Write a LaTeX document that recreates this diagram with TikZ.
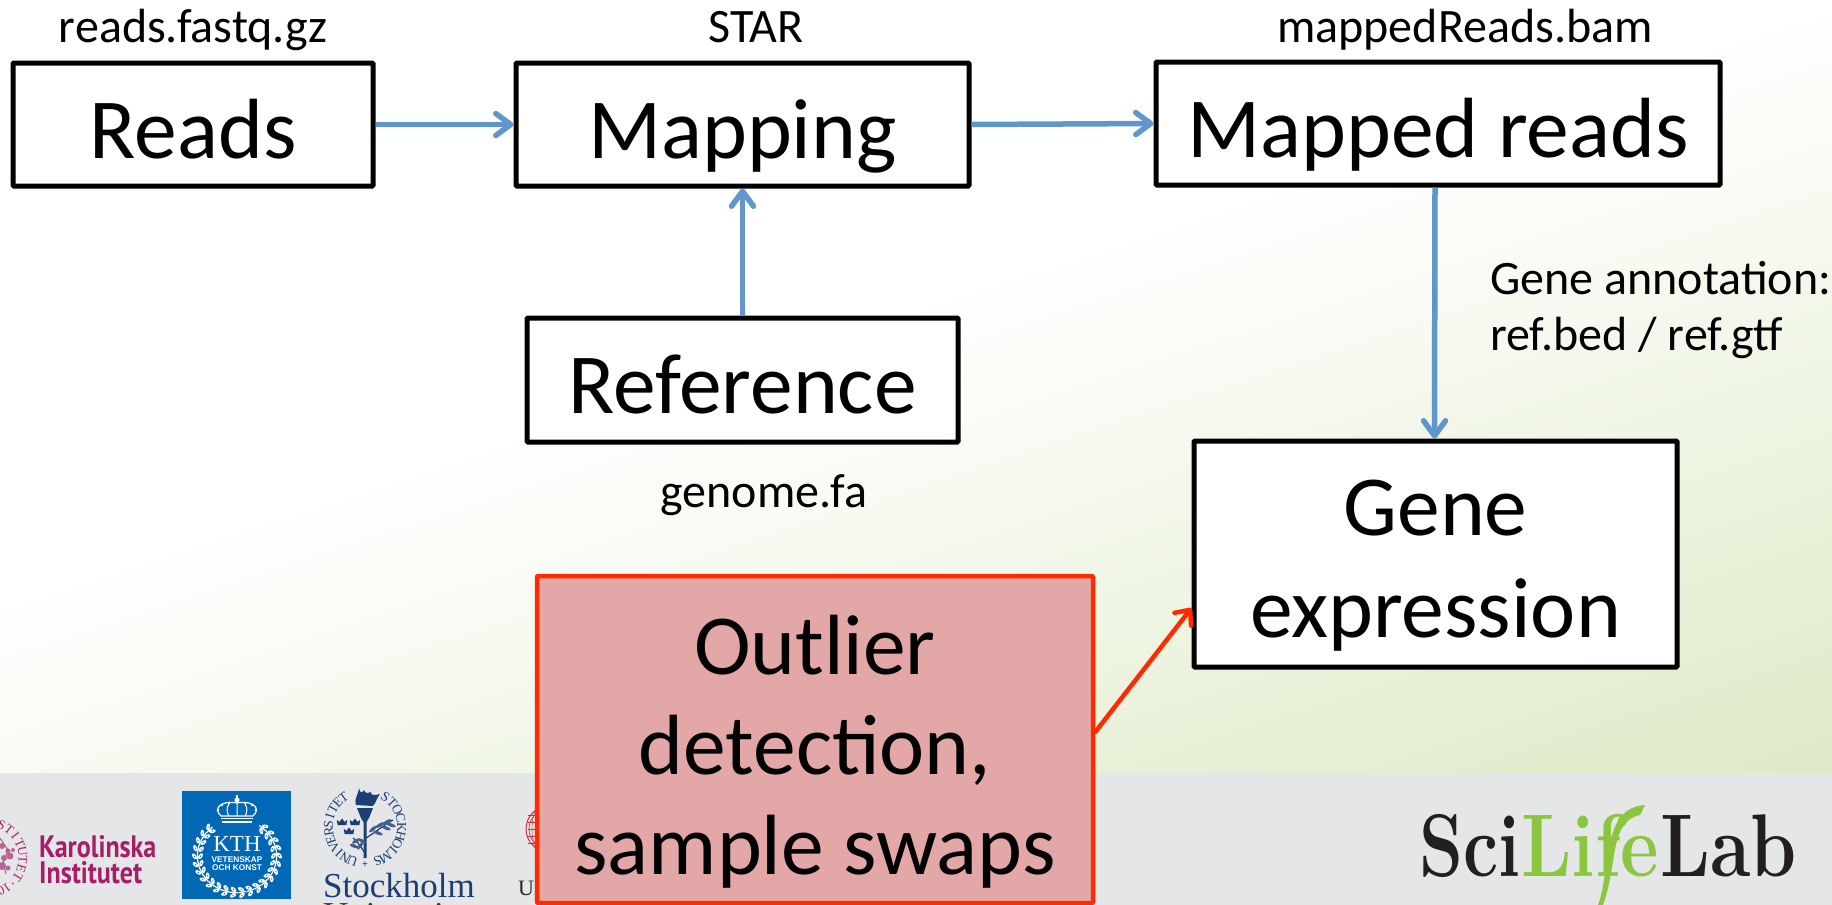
\documentclass[tikz,border=0pt]{standalone}
\usepackage{fontspec}
\setmainfont{Carlito}
\newfontfamily\serifF{Liberation Serif}
\newfontfamily\condF{PT Sans}
\newfontfamily\sansF{Liberation Sans}
\newfontfamily\didoneF{Latin Modern Roman}
\usetikzlibrary{arrows.meta,calc}
\definecolor{gradEnd}{HTML}{DDEAC6}
\definecolor{footGrey}{HTML}{E5E6E8}
\definecolor{arrowBlue}{HTML}{5F96CB}
\definecolor{alertRed}{HTML}{FF2A00}
\definecolor{alertFill}{HTML}{E2A7A6}
\definecolor{kiPink}{HTML}{A61E68}
\definecolor{kthBlue}{HTML}{0068B4}
\definecolor{suBlue}{HTML}{1C3F73}
\definecolor{uuRed}{HTML}{C9303E}
\definecolor{sciGreen}{HTML}{8CC63F}
\definecolor{sciBlack}{HTML}{231F20}
\newcommand{\bigT}{\fontsize{85.5}{100}\selectfont}
\newcommand{\smallT}{\fontsize{48}{56}\selectfont}
% ring of letters: centre x, centre y, radius, start angle, step, size, colour, letters
\newcommand{\ringletters}[8]{%
  \foreach \ch [count=\ii] in {#8}{%
    \pgfmathsetmacro\an{#4+(\ii-1)*#5}
    \pgfmathsetmacro\rt{-(\an+90)}
    \node[inner sep=0,text=#7,rotate=\rt,font={\serifF\fontsize{#6}{#6}\selectfont}] at ($(#1,#2)+(\an:#3)$) {\ch};
  }}
% small crown: centre x, base y, scale, colour
\newcommand{\tricrown}[4]{%
  \fill[#4,shift={(#1,#2)},scale=#3] (-3.4,0)--(-4,-4)--(-2,-2.4)--(0,-5)--(2,-2.4)--(4,-4)--(3.4,0)--cycle;}
\tikzset{
  x=1pt,y=-1pt,
  stepbox/.style={draw=black,fill=white,line width=5pt,rounded corners=1pt,inner sep=0pt,align=center,font=\bigT},
  alertbox/.style={draw=alertRed,fill=alertFill,line width=4.5pt,rounded corners=1pt,inner sep=0pt,align=center,font=\bigT},
  filelabel/.style={anchor=base,inner sep=0pt,font=\smallT,align=left},
  flow/.style={draw=arrowBlue,line width=5.5pt,
    preaction={draw=black,opacity=.12,transform canvas={yshift=-2pt}},
    -{Straight Barb[length=15pt,width=22pt,line width=5.5pt,round]}},
  alertflow/.style={draw=alertRed,line width=4.5pt,line cap=round,-{Straight Barb[length=12pt,width=21pt,line width=4.5pt,round]}},
}
\begin{document}
\begin{tikzpicture}
\useasboundingbox (0,0) rectangle (1832,905);
\begin{scope}
\clip (0,0) rectangle (1832,905);
% background gradient
\fill[white] (0,0) rectangle (1832,905);
\foreach \p in {0,2,...,100}{
  \pgfmathsetmacro\gt{570+7.3*\p}
  \pgfmathsetmacro\ya{(\gt+31)/0.95}
  \pgfmathsetmacro\yb{(\gt-620)/0.95}
  \fill[gradEnd!\p!white] (-100,\ya) -- (2000,\yb) -- (2000,1000) -- (-100,1000) -- cycle;
}
% footer
\fill[footGrey] (0,773) rectangle (1832,905);

% --- Karolinska
\ringletters{-13}{858}{36}{-94}{13.9}{13}{kiPink}{I,N,S,T,I,T,U,T,E,T}
\node[inner sep=0,text=kiPink,font=\sansF\fontsize{7}{7}\selectfont] at (13,885) {*};
\ringletters{-13}{858}{36}{56}{11}{13}{kiPink}{1,0}
\foreach \bx/\by/\br in {2/846/3,8/851/2.5,10/856/3.5,4/858/3,13/850/2,2/866/4,8/868/2.5}{
  \fill[kiPink!65!footGrey] (\bx,\by) circle (\br);}
\draw[kiPink!70!footGrey,line width=1pt] (0,838)--(8,850)--(3,862)--(6,874);
\node[anchor=base west,inner sep=0,text=kiPink,font=\condF\bfseries\fontsize{31}{31}\selectfont,xscale=0.84] at (39,857) {Karolinska};
\node[anchor=base west,inner sep=0,text=kiPink,font=\condF\bfseries\fontsize{31}{31}\selectfont,xscale=0.84] at (39,883) {Institutet};

% --- KTH
\fill[kthBlue] (182,791) rectangle (291,899);
\node[anchor=base,inner sep=0,text=white,font=\serifF\fontsize{23}{23}\selectfont] at (237,851) {KTH};
\node[anchor=base,inner sep=0,text=white,font=\sansF\bfseries\fontsize{8.3}{8.3}\selectfont] at (237,862.5) {VETENSKAP};
\node[anchor=base,inner sep=0,text=white,font=\sansF\bfseries\fontsize{8.3}{8.3}\selectfont] at (237,870.5) {OCH KONST};
\foreach \a in {-50,-38,...,232}{
  \pgfmathsetmacro\rr{\a+90}
  \pgfmathsetmacro\wx{237+39.5*cos(\a)}
  \pgfmathsetmacro\wy{856+36.5*sin(\a)}
  \begin{scope}[shift={(\wx,\wy)},rotate=-\rr]
    \draw[white,line width=1.2pt] (-4,0) -- (4,0);
    \fill[white,shift={(1,-3)},rotate=35] (0,0) ellipse (3.4 and 1.9);
    \fill[white,shift={(1,3)},rotate=-35] (0,0) ellipse (3.4 and 1.9);
    \fill[kthBlue] (1,-3) circle (0.7);
    \fill[kthBlue] (1,3) circle (0.7);
  \end{scope}
}
% crown
\draw[white,line width=1.3pt] (222,822) -- (252,822);
\draw[white,line width=1.3pt] (221,818.5) -- (253,818.5);
\draw[white,line width=1.2pt] (221,816) .. controls (212,808) and (222,800) .. (237,803) .. controls (252,800) and (262,808) .. (253,816) -- cycle;
\draw[white,line width=1pt] (237,803) -- (237,816) (229,804) .. controls (226,808) and (227,813) .. (229,816) (245,804) .. controls (248,808) and (247,813) .. (245,816);
\fill[white] (237,800) circle (2.6);
\fill[white] (236.2,794.5) rectangle (237.8,799);
\foreach \cx/\cy in {218/810,222/805,229/803,245/803,252/805,256/810}{\fill[white] (\cx,\cy) circle (1.3);}

% --- Stockholm University
\ringletters{365}{827}{36.5}{110}{12.4}{13.5}{suBlue}{U,N,I,V,E,R,S,I,T,E,T}
\ringletters{365}{827}{36.5}{-56}{14}{13.5}{suBlue}{S,T,O,C,K,H,O,L,M,S}
\node[inner sep=0,text=suBlue,font=\sansF\fontsize{10}{10}\selectfont] at (365,865) {+};
\fill[suBlue] (357,808) -- (373,808) -- (369,818) -- (366.5,822) -- (366.5,858) -- (363.5,858) -- (363.5,822) -- (361,818) -- cycle;
\fill[suBlue] (356,805) .. controls (354,798) and (358,796) .. (359,788) .. controls (360,793) and (362,794) .. (364,790) .. controls (365,794) and (368,793) .. (371,792) .. controls (370,795) and (374,796) .. (380,794) .. controls (376,799) and (376,803) .. (373,806) -- cycle;
\tricrown{342}{825}{1.3}{suBlue}
\tricrown{355}{825}{1.3}{suBlue}
\tricrown{349}{834}{1.3}{suBlue}
\draw[suBlue,line width=1.2pt] (366,838) .. controls (376,832) and (382,826) .. (393,820);
\foreach \lx/\ly/\lr in {373/829/40,380/825/30,387/822/30,378/833/-20,386/828/-20,391/825/-20}{
  \fill[suBlue!80!footGrey,rotate around={\lr:(\lx,\ly)}] (\lx,\ly) ellipse (5 and 1.7);}
\draw[suBlue,line width=1.2pt] (364,852) .. controls (360,845) and (356,840) .. (353,838);
\foreach \lx/\ly/\lr in {356/841/30,360/846/50,362/841/-30,354/846/-20}{
  \fill[suBlue!80!footGrey,rotate around={\lr:(\lx,\ly)}] (\lx,\ly) ellipse (4.5 and 1.7);}
\node[anchor=base west,inner sep=0,text=suBlue,font=\serifF\fontsize{35}{35}\selectfont] at (323,897) {Stockholm};
\node[anchor=base west,inner sep=0,text=suBlue,font=\serifF\fontsize{35}{35}\selectfont] at (323,926) {University};

% --- Uppsala (mostly hidden by the red box)
\draw[uuRed,line width=1pt] (549,829) circle (23);
\draw[uuRed,line width=0.7pt] (549,829) circle (20);
\foreach \yy in {815,822,829,836,843}{\draw[uuRed,line width=0.5pt] (528,\yy) -- (545,\yy);}
\draw[uuRed,line width=0.5pt] (535,810) .. controls (531,822) and (531,836) .. (535,848);
\node[anchor=base west,inner sep=0,text=black!85,font=\serifF\fontsize{22}{22}\selectfont] at (518,895) {UPPSALA};

% --- SciLifeLab
\node[anchor=base west,inner sep=0,text=sciBlack,font=\didoneF\bfseries\fontsize{89}{89}\selectfont,xscale=0.79] at (1419,876) {Sci};
\node[anchor=base west,inner sep=0,text=sciGreen,font=\didoneF\bfseries\fontsize{89}{89}\selectfont,xscale=0.84] at (1521,876) {Life};
\fill[sciGreen] (1645,805) .. controls (1620,807) and (1612,825) .. (1607,860) .. controls (1604,880) and (1602,895) .. (1598,905) -- (1603,905) .. controls (1608,892) and (1611,875) .. (1614,855) .. controls (1618,830) and (1625,818) .. (1640,815) -- cycle;
\node[anchor=base west,inner sep=0,text=sciBlack,font=\didoneF\bfseries\fontsize{89}{89}\selectfont,xscale=0.83] at (1660,876) {Lab};

% --- boxes
\node[stepbox,minimum width=360pt,minimum height=123pt,text height=67pt,text depth=0pt] (Reads) at (193,124.5) {Reads};
\node[stepbox,minimum width=453pt,minimum height=123pt,text height=67pt,text depth=0pt] (Mapping) at (742.5,124.5) {Mapping};
\node[stepbox,minimum width=564pt,minimum height=123pt,text height=67pt,text depth=0pt] (Mapped) at (1438,123.5) {Mapped reads};
\node[stepbox,minimum width=431pt,minimum height=124pt,text height=67pt,text depth=0pt] (Reference) at (742.5,380) {Reference};
\node[stepbox,minimum width=483pt,minimum height=226pt,text height=167pt,text depth=0pt] (Gene) at (1435.5,554) {Gene\\[2pt]expression};
\node[alertbox,minimum width=556pt,minimum height=327pt,text height=269pt,text depth=0pt] (Outlier) at (815,739.5) {Outlier\\detection,\\sample swaps};

% --- labels
\node[filelabel] (lReads) at (193,42) {reads.fastq.gz};
\node[filelabel] (lStar) at (756,42) {STAR};
\node[filelabel] (lBam) at (1465,42) {mappedReads.bam};
\node[filelabel] (lGenome) at (764,507) {genome.fa};
\node[filelabel,anchor=base west] (lAnn) at (1490,350) {Gene annotation:\\ref.bed / ref.gtf};

% --- connectors
\draw[flow] (Reads.east) -- (Mapping.west);
\draw[flow] (Mapping.east) -- (Mapped.west);
\draw[flow] (Reference.north) -- (Mapping.south);
\draw[flow] ([xshift=-3pt]Mapped.south) -- ([xshift=-1pt]Gene.north);
\draw[alertflow] ([yshift=7.5pt]Outlier.east) -- ([yshift=-54pt]Gene.west);
\end{scope}
\end{tikzpicture}
\end{document}
